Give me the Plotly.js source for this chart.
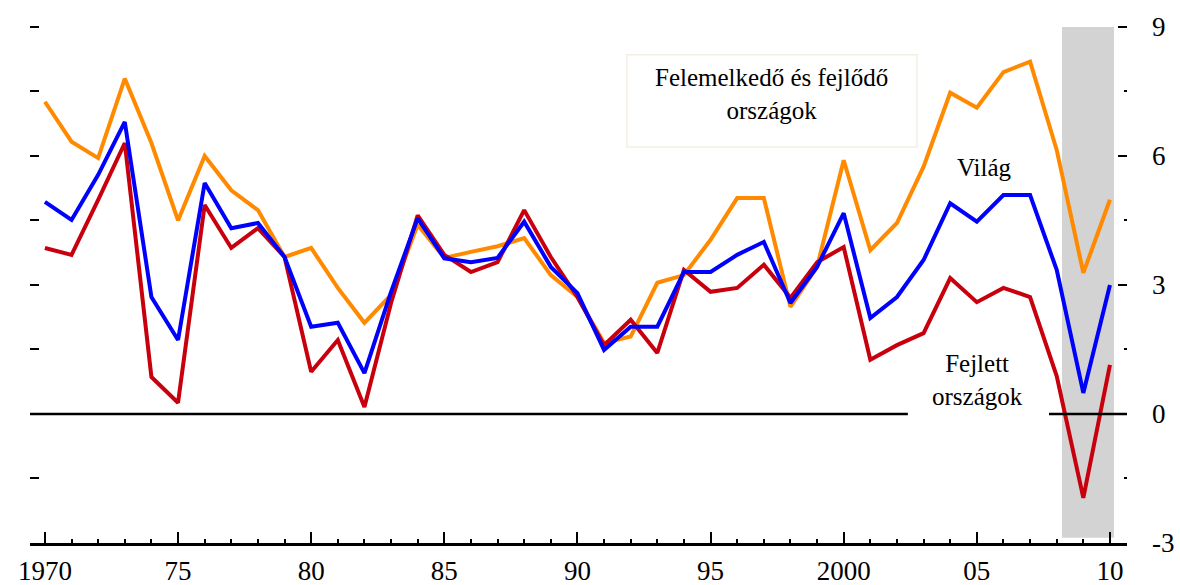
<!DOCTYPE html>
<html>
<head>
<meta charset="utf-8">
<script src="https://cdn.plot.ly/plotly-3.0.1.min.js"></script>
<style>html,body{margin:0;padding:0;background:#fff;}#chart{width:1180px;height:585px;}</style>
</head>
<body>
<div id="chart"></div>
<script>
const years = [1970,1971,1972,1973,1974,1975,1976,1977,1978,1979,1980,1981,1982,1983,1984,1985,1986,1987,1988,1989,1990,1991,1992,1993,1994,1995,1996,1997,1998,1999,2000,2001,2002,2003,2004,2005,2006,2007,2008,2009,2010];
const emerging = [7.26,6.33,5.95,7.8,6.3,4.5,6.0,5.2,4.74,3.65,3.86,2.93,2.12,2.77,4.4,3.63,3.77,3.9,4.09,3.23,2.72,1.65,1.8,3.05,3.23,4.05,5.02,5.02,2.49,3.42,5.9,3.81,4.44,5.75,7.47,7.12,7.95,8.19,6.14,3.28,4.98];
const world = [4.93,4.51,5.56,6.79,2.72,1.72,5.37,4.32,4.44,3.65,2.03,2.12,0.95,2.84,4.55,3.62,3.53,3.63,4.47,3.42,2.81,1.49,2.03,2.03,3.3,3.3,3.7,4.0,2.58,3.42,4.67,2.23,2.72,3.58,4.9,4.47,5.09,5.09,3.35,0.49,3.0];
const advanced = [3.86,3.7,4.98,6.3,0.86,0.26,4.86,3.86,4.32,3.65,0.98,1.72,0.16,2.58,4.62,3.7,3.3,3.53,4.74,3.65,2.72,1.6,2.19,1.42,3.35,2.84,2.93,3.47,2.7,3.53,3.88,1.26,1.6,1.88,3.16,2.6,2.93,2.72,0.88,-1.95,1.14];
const xTickVals = [1970,1975,1980,1985,1990,1995,2000,2005,2010];
const xTickText = ["1970","75","80","85","90","95","2000","05","10"];
const yTickVals = [-3,0,3,6,9];
const yTickText = ["-3","0","3","6","9"];
const recession = [2008.2, 2010.15];
const labels = {
  emerging: "Felemelkedő és fejlődő<br>országok",
  world: "Világ",
  advanced: "Fejlett<br>országok"
};

const FONT = "Liberation Serif, Times New Roman, serif";
const xr = [1969.44, 2010.64];
const yr = [-3, 9.3];

const traces = [
  {x: years, y: emerging, type:'scatter', mode:'lines', line:{color:'#ff8a00', width:4}, hoverinfo:'skip'},
  {x: years, y: advanced, type:'scatter', mode:'lines', line:{color:'#c8000e', width:4}, hoverinfo:'skip'},
  {x: years, y: world, type:'scatter', mode:'lines', line:{color:'#0000ff', width:4}, hoverinfo:'skip'},
  {x: [years[0]], y: [0], yaxis:'y2', type:'scatter', mode:'lines', line:{width:0}, hoverinfo:'skip', showlegend:false}
];

const layout = {
  width:1180, height:585,
  margin:{l:30, r:53, t:14, b:42},
  paper_bgcolor:'#fff', plot_bgcolor:'#fff',
  showlegend:false,
  font:{family:FONT, color:'#000', size:25},
  xaxis:{
    range:xr, tickvals:xTickVals, ticktext:xTickText,
    ticks:'inside', ticklen:11, tickwidth:2, tickcolor:'#000',
    minor:{tick0:1970, dtick:1, ticks:'inside', ticklen:4, tickwidth:2, tickcolor:'#000'},
    showline:true, linecolor:'#000', linewidth:3, showgrid:false, zeroline:false,
    tickfont:{family:FONT, size:27, color:'#000'}, ticklabelstandoff:2
  },
  yaxis:{
    range:yr, side:'right', tickvals:yTickVals, ticktext:yTickText,
    ticks:'inside', ticklen:9, tickwidth:2, tickcolor:'#000',
    minor:{tick0:0, dtick:1.5, ticks:'inside', ticklen:3, tickwidth:2, tickcolor:'#000'},
    showline:false, showgrid:false, zeroline:false,
    tickfont:{family:FONT, size:27, color:'#000'}, ticklabelstandoff:24
  },
  yaxis2:{
    range:yr, overlaying:'y', side:'left', tick0:0, dtick:1.5,
    ticks:'inside', ticklen:9, tickwidth:2, tickcolor:'#000',
    showticklabels:false, showline:false, showgrid:false, zeroline:false
  },
  shapes:[
    {type:'rect', xref:'x', yref:'y', x0:recession[0], x1:recession[1], y0:-2.88, y1:9, fillcolor:'#d3d3d3', line:{width:0}, layer:'below'},
    {type:'line', xref:'paper', yref:'y', x0:0, x1:(2002.41-xr[0])/(xr[1]-xr[0]), y0:0, y1:0, line:{color:'#000', width:2.5}},
    {type:'line', xref:'paper', yref:'y', x0:(2007.71-xr[0])/(xr[1]-xr[0]), x1:1, y0:0, y1:0, line:{color:'#000', width:2.5}},
    {type:'rect', xref:'x', yref:'y', x0:1991.86, x1:2002.75, y0:6.21, y1:8.35, line:{color:'#f4efe6', width:1.5}, fillcolor:'rgba(0,0,0,0)', layer:'below'}
  ],
  annotations:[
    {xref:'x', yref:'y', x:1997.27, y:7.44, text:labels.emerging, showarrow:false, font:{family:FONT, size:25, color:'#000'}, align:'center'},
    {xref:'x', yref:'y', x:2005.3, y:5.74, text:labels.world, showarrow:false, font:{family:FONT, size:25, color:'#000'}, align:'center'},
    {xref:'x', yref:'y', x:2005.04, y:0.79, text:labels.advanced, showarrow:false, font:{family:FONT, size:25, color:'#000'}, align:'center'}
  ]
};

Plotly.newPlot('chart', traces, layout, {displayModeBar:false, staticPlot:true});
</script>
</body>
</html>
